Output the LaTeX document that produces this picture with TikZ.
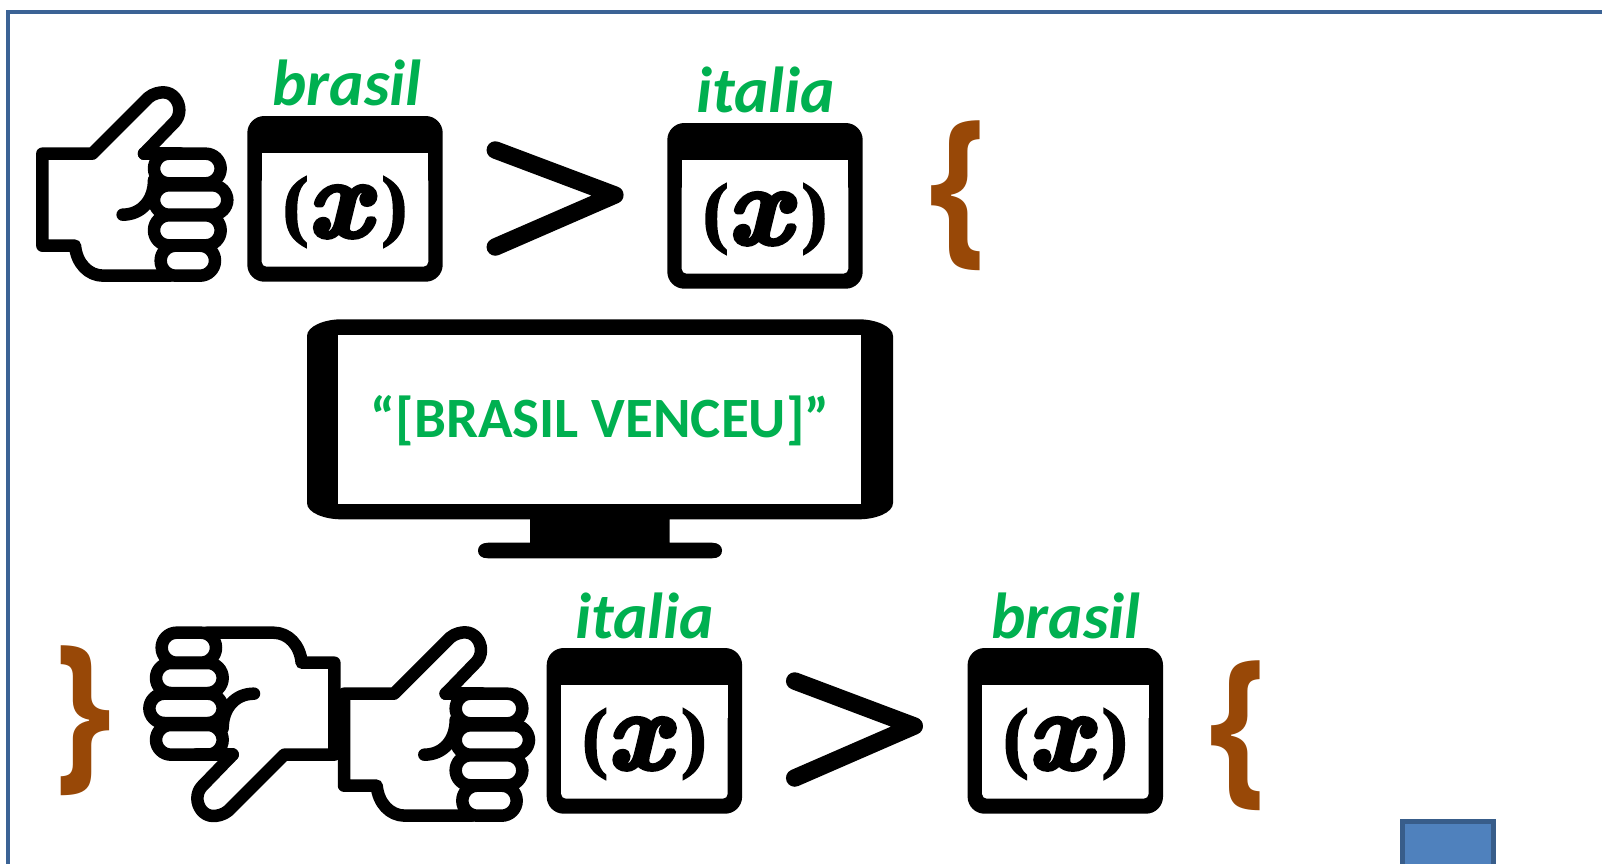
\documentclass[tikz,border=0pt]{standalone}
\usepackage{fontspec}
\setmainfont{Carlito}
\newfontfamily\parfont[BoldFeatures={FakeBold=2}]{Liberation Serif}
\newfontfamily\bracefont{Open Sans}
\newfontfamily\xfont[BoldItalicFeatures={FakeBold=4}]{Latin Modern Roman}
\definecolor{lblgreen}{HTML}{00B050}
\definecolor{bracebrown}{HTML}{984807}
\definecolor{frameblue}{HTML}{3B6395}
\definecolor{boxblue}{HTML}{4F81BD}
\definecolor{boxedge}{HTML}{385D8A}
\tikzset{
  lbl/.style={text=lblgreen,font=\fontsize{65}{65}\selectfont\bfseries\itshape,anchor=base,inner sep=0pt},
  bracetext/.style={text=bracebrown,inner sep=0pt,font=\bracefont\fontsize{172}{172}\selectfont\bfseries,xscale=0.83,transform shape},
  handicon/.pic={
    \begin{scope}[line width=12.5pt,line join=round,line cap=round,draw=black]
      \draw (372,311) -- (465,215) .. controls (472,207) and (478,195) .. (478,180)
        .. controls (478,155) and (460,127) .. (430,127)
        .. controls (420,127) and (400,130) .. (385,143) -- (217,311) -- (67,311) -- (67,587) -- (165,587)
        .. controls (170,640) and (205,677) .. (250,677) -- (450,677);
      \draw (372,311) -- (480,311);
      \draw[rounded corners=15pt] (402,311) rectangle (602,400);
      \draw[rounded corners=15pt] (402,406) rectangle (622,494);
      \draw[rounded corners=15pt] (402,496) rectangle (602,586);
      \draw[rounded corners=15pt] (422,587) rectangle (585,677);
      \draw (308,494) .. controls (365,494) and (402,450) .. (402,390);
    \end{scope}
  },
  winicon/.pic={
    \fill[black,rounded corners=17pt] (0,0) rectangle (195.4,165.7);
    \fill[white,rounded corners=5pt] (14.4,60) -- (14.4,150.7) -- (181,150.7) -- (181,60) -- cycle;
    \fill[white] (14.4,37.3) rectangle (181,70);
    \node[inner sep=0pt,anchor=center] (-fx) at (97.7,96) {\raisebox{6pt}{\parfont\fontsize{78}{78}\selectfont\bfseries(}\kern-1pt{\xfont\fontsize{112}{112}\selectfont\bfseries\itshape x}\kern11pt\raisebox{6pt}{\parfont\fontsize{78}{78}\selectfont\bfseries)}};
  },
  gtsign/.pic={
    \draw[line width=17.5pt,line cap=round,line join=round] (0,0) -- (119.5,45) -- (0,97);
  }
}
\begin{document}
\begin{tikzpicture}[x=1pt,y=-1pt]
\useasboundingbox (0,0) rectangle (1602,863);
\clip (0,0) rectangle (1602,863);
\fill[white] (0,0) rectangle (1602,863);
% frame
\draw[frameblue,line width=4pt] (8,870) -- (8,12) -- (1610,12);
% box bottom right
\draw[boxedge,fill=boxblue,line width=5pt] (1402,821) rectangle (1493,880);
% top row
\pic[xscale=0.33333,yscale=0.33333] (h1) at (20,50) {handicon};
\pic (w1) at (247.3,116) {winicon};
\pic (g1) at (495.3,150) {gtsign};
\pic (w2) at (667.3,123) {winicon};
\node[lbl] (brasilA) at (347,105) {brasil};
\node[lbl] (italiaA) at (766,112.5) {italia};
\node[bracetext] (braceA) at (958,196) {\{};
% monitor
\fill[black] (307,336) .. controls (307,326) and (325,319.3) .. (341,319.3) -- (859,319.3)
  .. controls (875,319.3) and (893,326) .. (893,336) -- (893,503)
  .. controls (893,513) and (875,519.3) .. (859,519.3) -- (669.6,519.3) -- (669.6,542.7) -- (712,542.7)
  .. controls (719,542.7) and (722,546.5) .. (722,550.5) .. controls (722,555) and (719,558.3) .. (712,558.3)
  -- (488,558.3) .. controls (481,558.3) and (478,555) .. (478,550.5) .. controls (478,546.5) and (481,542.7) .. (488,542.7)
  -- (530,542.7) -- (530,519.3) -- (341,519.3) .. controls (325,519.3) and (307,513) .. (307,503) -- cycle;
\fill[white] (338,335) rectangle (861,504);
\node[text=lblgreen,font=\fontsize{57}{57}\selectfont\bfseries,inner sep=0pt,anchor=base] (screen) at (600,437) {“[BRASIL VENCEU]”};
% bottom row
\node[bracetext] (braceB) at (84,721) {\}};
\pic[xscale=-0.33333,yscale=-0.33333] (h2) at (356.67,858.33) {handicon};
\pic[xscale=0.33333,yscale=0.33333] (h3) at (321.67,590) {handicon};
\pic (w3) at (546.7,648) {winicon};
\pic (w4) at (967.6,648) {winicon};
\pic (g2) at (794.7,681) {gtsign};
\node[lbl] (italiaB) at (645,638.5) {italia};
\node[lbl] (brasilB) at (1066,638.5) {brasil};
\node[bracetext] (braceC) at (1238,736) {\{};
\end{tikzpicture}
\end{document}
